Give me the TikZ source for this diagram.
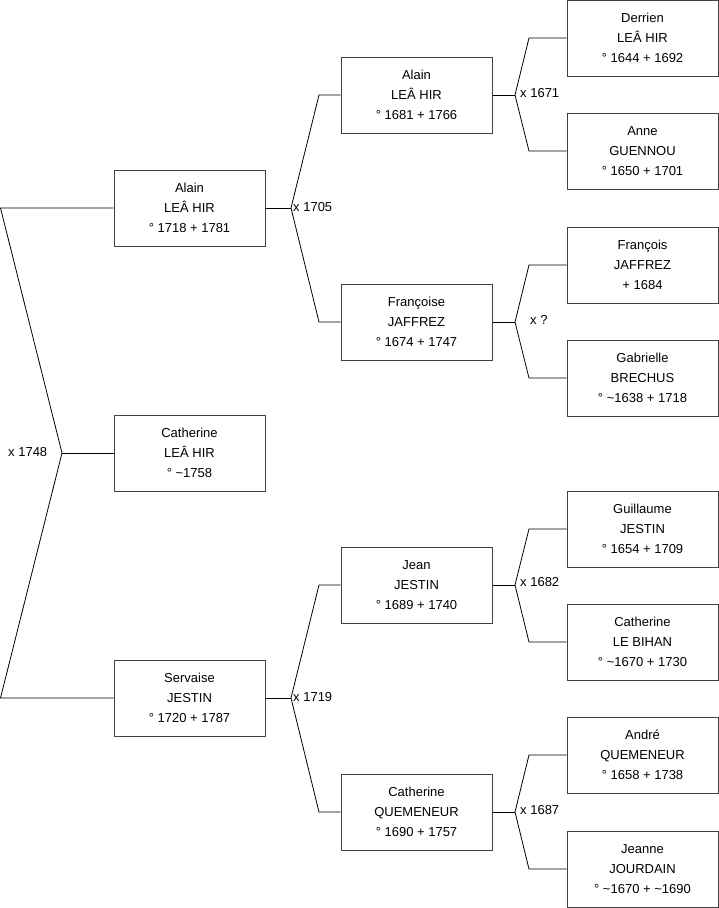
\documentclass[tikz,border=0pt]{standalone}
\usepackage{fontspec}
\setmainfont{Liberation Sans}
\begin{document}
\begin{tikzpicture}[x=1pt,y=-1pt,
  person/.style={draw=black!75,line width=1pt,minimum width=151pt,minimum height=76pt,inner sep=0pt,align=center,font=\fontsize{13}{20}\selectfont},
  link/.style={draw=black,line width=0.8pt},
  marriage/.style={anchor=west,inner sep=0pt,font=\fontsize{13}{15}\selectfont}]
\useasboundingbox (0,0) rectangle (719,908);
% column 1
\node[person] (a1) at (189.5,208) {Alain\\LEÂ HIR\\° 1718 + 1781};
\node[person] (c1) at (189.5,453) {Catherine\\LEÂ HIR\\° \textasciitilde1758};
\node[person] (s1) at (189.5,698) {Servaise\\JESTIN\\° 1720 + 1787};
% column 2
\node[person] (a2) at (416.5,95) {Alain\\LEÂ HIR\\° 1681 + 1766};
\node[person] (f2) at (416.5,322) {Françoise\\JAFFREZ\\° 1674 + 1747};
\node[person] (j2) at (416.5,585) {Jean\\JESTIN\\° 1689 + 1740};
\node[person] (q2) at (416.5,812) {Catherine\\QUEMENEUR\\° 1690 + 1757};
% column 3
\node[person] (d3) at (642.5,38) {Derrien\\LEÂ HIR\\° 1644 + 1692};
\node[person] (g3) at (642.5,151) {Anne\\GUENNOU\\° 1650 + 1701};
\node[person] (fr3) at (642.5,265) {François\\JAFFREZ\\+ 1684};
\node[person] (gb3) at (642.5,378) {Gabrielle\\BRECHUS\\° \textasciitilde1638 + 1718};
\node[person] (gu3) at (642.5,529) {Guillaume\\JESTIN\\° 1654 + 1709};
\node[person] (lb3) at (642.5,642) {Catherine\\LE BIHAN\\° \textasciitilde1670 + 1730};
\node[person] (an3) at (642.5,755) {André\\QUEMENEUR\\° 1658 + 1738};
\node[person] (jo3) at (642.5,869) {Jeanne\\JOURDAIN\\° \textasciitilde1670 + \textasciitilde1690};
% left bracket
\coordinate (lt) at (0.5,208);
\coordinate (lm) at (62,453);
\coordinate (lb) at (0.5,698);
\draw[link] (a1.west) -- (lt) -- (lm) -- (lb) -- (s1.west);
\draw[link] (lm) -- (c1.west);
\node[marriage] (m0) at (8,452) {x 1748};
% column 1 -> 2
\coordinate (ja) at (291,208);
\coordinate (jau) at (319,95);
\coordinate (jad) at (319,322);
\draw[link] (a1.east) -- (ja);
\draw[link] (a2.west) -- (jau) -- (ja) -- (jad) -- (f2.west);
\node[marriage] (m1) at (293,207) {x 1705};
\coordinate (js) at (291,698);
\coordinate (jsu) at (319,585);
\coordinate (jsd) at (319,812);
\draw[link] (s1.east) -- (js);
\draw[link] (j2.west) -- (jsu) -- (js) -- (jsd) -- (q2.west);
\node[marriage] (m2) at (293,697) {x 1719};
% column 2 -> 3
\coordinate (k1) at (515,95);
\coordinate (k1u) at (529,38);
\coordinate (k1d) at (529,151);
\draw[link] (a2.east) -- (k1);
\draw[link] (d3.west) -- (k1u) -- (k1) -- (k1d) -- (g3.west);
\node[marriage] (m3) at (520,93) {x 1671};
\coordinate (k2) at (515,322);
\coordinate (k2u) at (529,265);
\coordinate (k2d) at (529,378);
\draw[link] (f2.east) -- (k2);
\draw[link] (fr3.west) -- (k2u) -- (k2) -- (k2d) -- (gb3.west);
\node[marriage] (m4) at (530,320) {x ?};
\coordinate (k3) at (515,585);
\coordinate (k3u) at (529,529);
\coordinate (k3d) at (529,642);
\draw[link] (j2.east) -- (k3);
\draw[link] (gu3.west) -- (k3u) -- (k3) -- (k3d) -- (lb3.west);
\node[marriage] (m5) at (520,582) {x 1682};
\coordinate (k4) at (515,812);
\coordinate (k4u) at (529,755);
\coordinate (k4d) at (529,869);
\draw[link] (q2.east) -- (k4);
\draw[link] (an3.west) -- (k4u) -- (k4) -- (k4d) -- (jo3.west);
\node[marriage] (m6) at (520,810) {x 1687};
\end{tikzpicture}
\end{document}
